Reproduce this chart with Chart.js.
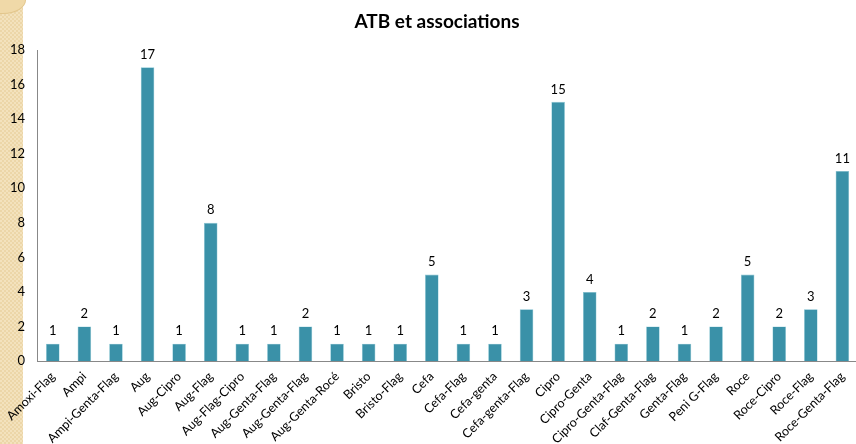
<!DOCTYPE html>
<html>
<head>
<meta charset="utf-8">
<script src="https://cdn.jsdelivr.net/npm/chart.js@4"></script>
<style>
  html, body { margin: 0; padding: 0; background: #fff; }
  #wrap { position: relative; width: 856px; height: 444px; overflow: hidden; }
  #strip {
    position: absolute; left: 0; top: 0; width: 23px; height: 444px;
    background-color: #f3e2bd;
    background-image:
      linear-gradient(45deg, #ecd6a8 25%, transparent 25%, transparent 75%, #ecd6a8 75%),
      linear-gradient(45deg, #ecd6a8 25%, transparent 25%, transparent 75%, #ecd6a8 75%);
    background-size: 4px 4px;
    background-position: 0 0, 2px 2px;
  }
  #tab {
    position: absolute; left: -20px; top: -14px; width: 44px; height: 26px;
    border-radius: 50%; background: #f0d9a8; border: 1px solid #e2c68c;
  }
  canvas { position: absolute; left: 0; top: 0; }
</style>
</head>
<body>
<div id="wrap">
  <div id="strip"></div>
  <div id="tab"></div>
  <canvas id="myBarChart" width="861" height="444"></canvas>
</div>
<script>
var labels = ['Amoxi-Flag', 'Ampi', 'Ampi-Genta-Flag', 'Aug', 'Aug-Cipro', 'Aug-Flag',
  'Aug-Flag-Cipro', 'Aug-Genta-Flag', 'Aug-Genta-Flag', 'Aug-Genta-Rocé', 'Bristo',
  'Bristo-Flag', 'Cefa', 'Cefa-Flag', 'Cefa-genta', 'Cefa-genta-Flag', 'Cipro',
  'Cipro-Genta', 'Cipro-Genta-Flag', 'Claf-Genta-Flag', 'Genta-Flag', 'Peni G-Flag',
  'Roce', 'Roce-Cipro', 'Roce-Flag', 'Roce-Genta-Flag'];
var values = [1, 2, 1, 17, 1, 8, 1, 1, 2, 1, 1, 1, 5, 1, 1, 3, 15, 4, 1, 2, 1, 2, 5, 2, 3, 11];
var yTicks = [0, 2, 4, 6, 8, 10, 12, 14, 16, 18];
var title = 'ATB et associations';

var fontFamily = 'Lato, "DejaVu Sans", sans-serif';

// titre + valeurs au-dessus des barres
var valueLabels = {
    id: 'valueLabels',
    afterDatasetsDraw: function (chart) {
        var ctx = chart.ctx;
        var meta = chart.getDatasetMeta(0);
        ctx.save();
        ctx.fillStyle = '#000';
        ctx.textAlign = 'center';

        ctx.font = 'bold 19px ' + fontFamily;
        ctx.textBaseline = 'middle';
        ctx.fillText(title, 437, 22);

        ctx.font = '13px ' + fontFamily;
        ctx.textBaseline = 'bottom';
        meta.data.forEach(function (bar, i) {
            ctx.fillText(values[i], bar.x, bar.y - 6);
        });
        ctx.restore();
    }
};

var ctx = document.getElementById('myBarChart').getContext('2d');
var myBarChart = new Chart(ctx, {
    type: 'bar',
    data: {
        labels: labels,
        datasets: [{
            label: 'ATB',
            data: values,
            backgroundColor: '#3a91a8',
            borderColor: '#86c6d4',
            borderWidth: 0.6,
            categoryPercentage: 1,
            barPercentage: 0.43
        }]
    },
    options: {
        responsive: false,
        animation: false,
        layout: { padding: { left: 0, right: 0, top: 50, bottom: 0 } },
        plugins: {
            legend: { display: false },
            tooltip: { enabled: false },
            title: { display: false }
        },
        scales: {
            x: {
                grid: { display: false, drawTicks: false },
                border: { display: true, color: '#888', width: 1 },
                ticks: {
                    color: '#000',
                    font: { family: fontFamily, size: 12.5 },
                    minRotation: 45,
                    maxRotation: 45,
                    autoSkip: false,
                    padding: 8
                },
                afterFit: function (scale) { scale.height = 83; }
            },
            y: {
                min: 0,
                max: 18,
                afterBuildTicks: function (scale) {
                    scale.ticks = yTicks.map(function (v) { return { value: v }; });
                },
                grid: { display: false, drawTicks: false },
                border: { display: true, color: '#888', width: 1 },
                ticks: {
                    color: '#000',
                    font: { family: fontFamily, size: 13 },
                    padding: 12
                },
                afterFit: function (scale) { scale.width = 37; }
            }
        }
    },
    plugins: [valueLabels]
});
</script>
</body>
</html>
